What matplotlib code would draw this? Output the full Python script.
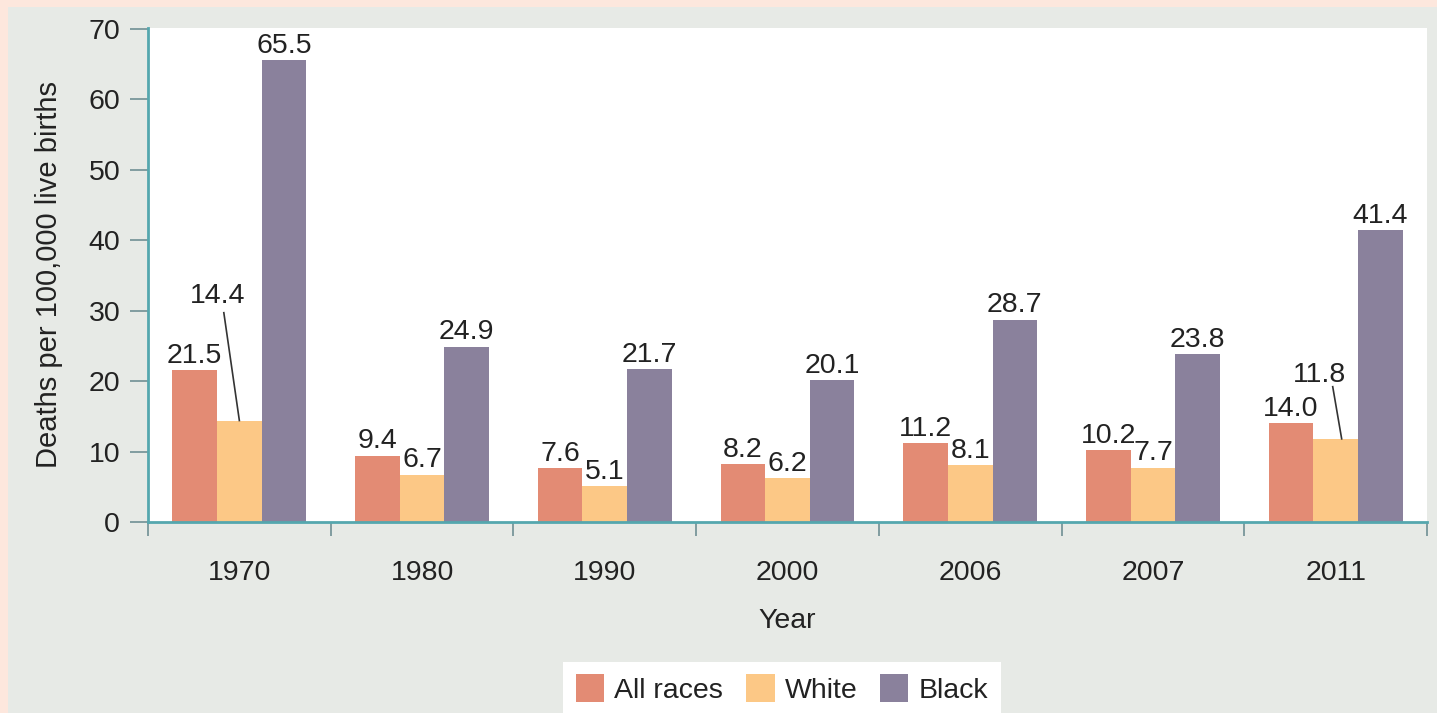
import matplotlib.pyplot as plt
import numpy as np
from matplotlib.patches import Rectangle

years = ['1970', '1980', '1990', '2000', '2006', '2007', '2011']
all_races = [21.5, 9.4, 7.6, 8.2, 11.2, 10.2, 14.0]
white = [14.4, 6.7, 5.1, 6.2, 8.1, 7.7, 11.8]
black = [65.5, 24.9, 21.7, 20.1, 28.7, 23.8, 41.4]
series_names = ['All races', 'White', 'Black']

c_all = '#e38b74'
c_white = '#fcc886'
c_black = '#8a819c'
teal = '#55a7ae'
txt = '#222222'

plt.rcParams['font.family'] = ['Liberation Sans', 'DejaVu Sans']
plt.rcParams['font.size'] = 20

fig = plt.figure(figsize=(14.37, 7.13), dpi=100, facecolor='#fde7dd')
# grey panel inside the pink frame
fig.patches.append(Rectangle((8/1437, 0), 1 - 8/1437, 1 - 7/713, transform=fig.transFigure,
                             facecolor='#e7eae6', edgecolor='none', zorder=-10))

ax = fig.add_axes([148/1437, 1 - 522/713, (1427 - 148)/1437, (522 - 28)/713])
ax.set_facecolor('white')

x = np.arange(len(years))
w = 0.244
b1 = ax.bar(x - w, all_races, w, color=c_all, label=series_names[0], zorder=2)
b2 = ax.bar(x, white, w, color=c_white, label=series_names[1], zorder=2)
b3 = ax.bar(x + w, black, w, color=c_black, label=series_names[2], zorder=2)

ax.set_xlim(-0.5, len(years) - 0.5)
ax.set_ylim(0, 70.1)

# value labels above the bars
for bars, vals in [(b1, all_races), (b2, white), (b3, black)]:
    for i, (rect, v) in enumerate(zip(bars, vals)):
        if bars is b2 and i in (0, 6):
            continue
        ax.annotate(f'{v:.1f}', (rect.get_x() + rect.get_width()/2, v),
                    xytext=(0, 1), textcoords='offset points',
                    ha='center', va='bottom', fontsize=20.5, color=txt)

# labels with leader lines for the crowded groups
for i, dx_lab, y_lab, dx0, y0, dx1 in [(0, -0.117, 32.1, -0.085, 29.7, 0.0),
                                      (6, -0.087, 20.9, -0.016, 19.2, 0.033)]:
    ax.text(i + dx_lab, y_lab, f'{white[i]:.1f}', ha='center', va='center',
            fontsize=20.5, color=txt)
    ax.plot([i + dx0, i + dx1], [y0, white[i]], color='#333333', lw=1.2, zorder=3)

ax.set_yticks(np.arange(0, 71, 10))
ax.set_xticks(x)
ax.set_xticklabels(years)
ax.set_xticks(np.arange(-0.5, len(years), 1), minor=True)
ax.tick_params(axis='y', direction='out', length=13, width=1.2, color='#6f8f94',
               pad=7, labelsize=20.5, labelcolor=txt)
ax.tick_params(axis='x', which='major', length=0, pad=27, labelsize=20.5, labelcolor=txt)
ax.tick_params(axis='x', which='minor', direction='out', length=10, width=1.2,
               color='#6f8f94')

for s in ['top', 'right']:
    ax.spines[s].set_visible(False)
for s in ['left', 'bottom']:
    ax.spines[s].set_color(teal)
    ax.spines[s].set_linewidth(2)

ax.set_ylabel('Deaths per 100,000 live births', fontsize=21, color=txt, labelpad=18)
ax.set_xlabel('Year', fontsize=20.5, color=txt, labelpad=16)

leg = fig.legend(handles=[b1, b2, b3], labels=series_names, ncol=3,
                 loc='lower center', bbox_to_anchor=(782/1437, -0.005),
                 fontsize=20.5, frameon=True, fancybox=False, framealpha=1,
                 handlelength=1.0, handleheight=1.1, handletextpad=0.35,
                 columnspacing=0.8, borderpad=0.45, borderaxespad=0)
leg.get_frame().set_facecolor('white')
leg.get_frame().set_edgecolor('none')
for t in leg.get_texts():
    t.set_color(txt)

fig.savefig('out.png', dpi=100, facecolor=fig.get_facecolor())
